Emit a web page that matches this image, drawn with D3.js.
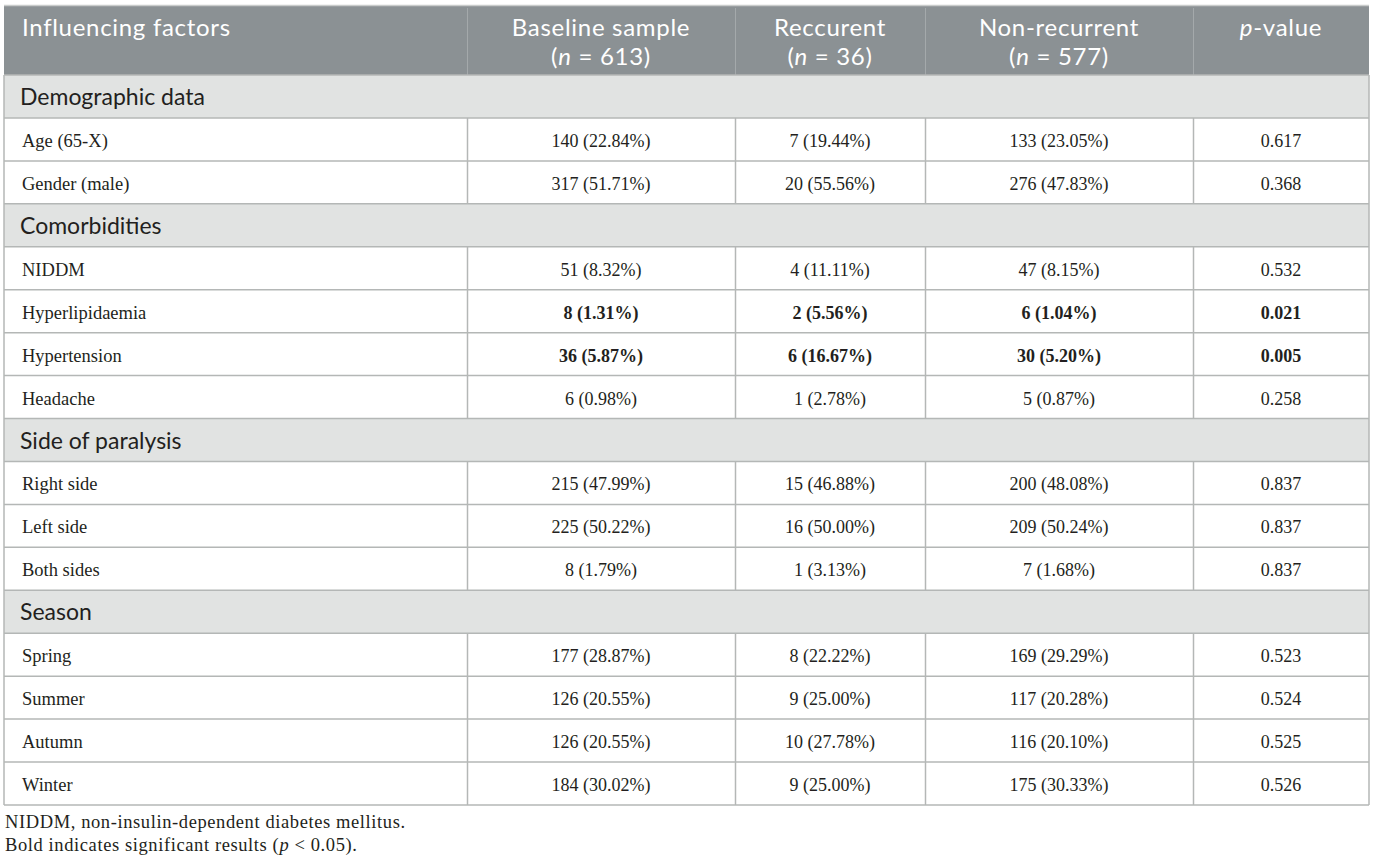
<!DOCTYPE html>
<html>
<head>
<meta charset="utf-8">
<script src="https://cdn.jsdelivr.net/npm/d3@7"></script>
<style>
  body { margin: 0; background: #fff; }
</style>
</head>
<body>
<svg id="table"></svg>
<script>
// ---- data ----
const headerLabels = ["Influencing factors", "Baseline sample", "Reccurent", "Non-recurrent", "p-value"];
const headerCounts = [null, 613, 36, 577, null];
const sectionNames = ["Demographic data", "Comorbidities", "Side of paralysis", "Season"];
const factorSection = [0, 0, 1, 1, 1, 1, 2, 2, 2, 3, 3, 3, 3];
const factorLabels = ["Age (65-X)", "Gender (male)", "NIDDM", "Hyperlipidaemia", "Hypertension", "Headache",
    "Right side", "Left side", "Both sides", "Spring", "Summer", "Autumn", "Winter"];
const baselineCounts = [140, 317, 51, 8, 36, 6, 215, 225, 8, 177, 126, 126, 184];
const baselinePct = [22.84, 51.71, 8.32, 1.31, 5.87, 0.98, 47.99, 50.22, 1.79, 28.87, 20.55, 20.55, 30.02];
const recurrentCounts = [7, 20, 4, 2, 6, 1, 15, 16, 1, 8, 9, 10, 9];
const recurrentPct = [19.44, 55.56, 11.11, 5.56, 16.67, 2.78, 46.88, 50.00, 3.13, 22.22, 25.00, 27.78, 25.00];
const nonRecurrentCounts = [133, 276, 47, 6, 30, 5, 200, 209, 7, 169, 117, 116, 175];
const nonRecurrentPct = [23.05, 47.83, 8.15, 1.04, 5.20, 0.87, 48.08, 50.24, 1.68, 29.29, 20.28, 20.10, 30.33];
const pValues = [0.617, 0.368, 0.532, 0.021, 0.005, 0.258, 0.837, 0.837, 0.837, 0.523, 0.524, 0.525, 0.526];
const footnoteAbbrev = "NIDDM, non-insulin-dependent diabetes mellitus.";
const significance = 0.05;

// ---- layout ----
const width = 1375, height = 863;
const colEdges = [4, 467, 735, 925, 1193, 1369];
const headerTop = 5, headerBottom = 75, tableBottom = 805;

const colors = {
    header: "#8b9194",
    headerRule: "#a4a9ab",
    section: "#e1e3e2",
    rule: "#b4b7b6",
    text: "#231f20"
};
const sansFont = "Lato, 'Open Sans', sans-serif";
const serifFont = "'Liberation Serif', 'DejaVu Serif', serif";

// build row list: section rows interleaved with factor rows
const rows = [];
factorLabels.forEach((label, i) => {
    if (i === 0 || factorSection[i] !== factorSection[i - 1]) {
        rows.push({ type: "section", label: sectionNames[factorSection[i]] });
    }
    rows.push({
        type: "factor",
        label: label,
        cells: [
            `${baselineCounts[i]} (${baselinePct[i].toFixed(2)}%)`,
            `${recurrentCounts[i]} (${recurrentPct[i].toFixed(2)}%)`,
            `${nonRecurrentCounts[i]} (${nonRecurrentPct[i].toFixed(2)}%)`,
            pValues[i].toFixed(3)
        ],
        bold: pValues[i] < significance
    });
});

const yScale = d3.scaleBand()
    .domain(d3.range(rows.length))
    .range([headerBottom, tableBottom])
    .paddingInner(0);

const svg = d3.select("#table")
    .attr("width", width)
    .attr("height", height)
    .style("display", "block");

// header background
svg.append("rect")
    .attr("x", colEdges[0]).attr("y", headerTop)
    .attr("width", colEdges[5] - colEdges[0]).attr("height", headerBottom - headerTop)
    .attr("fill", colors.header);

svg.append("line")
    .attr("x1", colEdges[0]).attr("x2", colEdges[5])
    .attr("y1", headerTop + 0.5).attr("y2", headerTop + 0.5)
    .attr("stroke", "#c9cccb").attr("stroke-width", 1.5);

// header separators
svg.selectAll(".hsep")
    .data(colEdges.slice(1, 5))
    .join("line")
    .attr("class", "hsep")
    .attr("x1", d => d + 0.5).attr("x2", d => d + 0.5)
    .attr("y1", headerTop + 3).attr("y2", headerBottom)
    .attr("stroke", colors.headerRule).attr("stroke-width", 1);

// header labels
const headerG = svg.append("g")
    .attr("font-family", sansFont)
    .attr("font-size", 24)
    .attr("letter-spacing", 0.7)
    .attr("fill", "#fff");

headerLabels.forEach((label, i) => {
    const center = (colEdges[i] + colEdges[i + 1]) / 2;
    const t = headerG.append("text")
        .attr("x", i === 0 ? 22 : center)
        .attr("y", 36)
        .attr("text-anchor", i === 0 ? "start" : "middle");
    if (label === "p-value") {
        t.append("tspan").attr("font-style", "italic").text("p");
        t.append("tspan").text("-value");
    } else {
        t.text(label);
    }
    if (headerCounts[i] != null) {
        const t2 = headerG.append("text")
            .attr("x", center)
            .attr("y", 65)
            .attr("text-anchor", "middle");
        t2.append("tspan").text("(");
        t2.append("tspan").attr("font-style", "italic").text("n");
        t2.append("tspan").text(` = ${headerCounts[i]})`);
    }
});

// body rows
const rowG = svg.selectAll(".row")
    .data(rows)
    .join("g")
    .attr("class", "row")
    .attr("transform", (d, i) => `translate(0,${yScale(i)})`);

rowG.append("rect")
    .attr("x", colEdges[0]).attr("width", colEdges[5] - colEdges[0])
    .attr("height", yScale.bandwidth())
    .attr("fill", d => d.type === "section" ? colors.section : "#fff");

// section labels
rowG.filter(d => d.type === "section")
    .append("text")
    .attr("x", 20)
    .attr("y", 30)
    .attr("font-family", sansFont)
    .attr("font-size", 23)
    .attr("fill", colors.text)
    .text(d => d.label);

// factor rows
const factorG = rowG.filter(d => d.type === "factor");

factorG.append("text")
    .attr("x", 22)
    .attr("y", 29)
    .attr("font-family", serifFont)
    .attr("font-size", 18.5)
    .attr("fill", colors.text)
    .text(d => d.label);

factorG.selectAll(".cell")
    .data(d => d.cells.map(c => ({ text: c, bold: d.bold })))
    .join("text")
    .attr("class", "cell")
    .attr("x", (d, j) => (colEdges[j + 1] + colEdges[j + 2]) / 2)
    .attr("y", 29)
    .attr("text-anchor", "middle")
    .attr("font-family", serifFont)
    .attr("font-size", 18)
    .attr("font-weight", d => d.bold ? "bold" : "normal")
    .attr("fill", colors.text)
    .text(d => d.text);

factorG.selectAll(".vsep")
    .data(colEdges.slice(1, 5))
    .join("line")
    .attr("class", "vsep")
    .attr("x1", d => d + 0.5).attr("x2", d => d + 0.5)
    .attr("y1", 0).attr("y2", yScale.bandwidth())
    .attr("stroke", colors.rule).attr("stroke-width", 1.5);

// horizontal rules
svg.selectAll(".hrule")
    .data(d3.range(rows.length + 1).map(i => i < rows.length ? yScale(i) : tableBottom))
    .join("line")
    .attr("class", "hrule")
    .attr("x1", colEdges[0]).attr("x2", colEdges[5])
    .attr("y1", d => d).attr("y2", d => d)
    .attr("stroke", colors.rule).attr("stroke-width", 1.5);

// outer borders
[colEdges[0], colEdges[5]].forEach(x => {
    svg.append("line")
        .attr("x1", x).attr("x2", x)
        .attr("y1", headerBottom).attr("y2", tableBottom)
        .attr("stroke", colors.rule).attr("stroke-width", 1.5);
});

// footnotes
const footG = svg.append("g")
    .attr("font-family", serifFont)
    .attr("font-size", 18.5)
    .attr("letter-spacing", 0.6)
    .attr("fill", colors.text);

footG.append("text").attr("x", 5).attr("y", 828).text(footnoteAbbrev);

const fn2 = footG.append("text").attr("x", 5).attr("y", 851);
fn2.append("tspan").text("Bold indicates significant results (");
fn2.append("tspan").attr("font-style", "italic").text("p");
fn2.append("tspan").text(` < ${significance.toFixed(2)}).`);
</script>
</body>
</html>
